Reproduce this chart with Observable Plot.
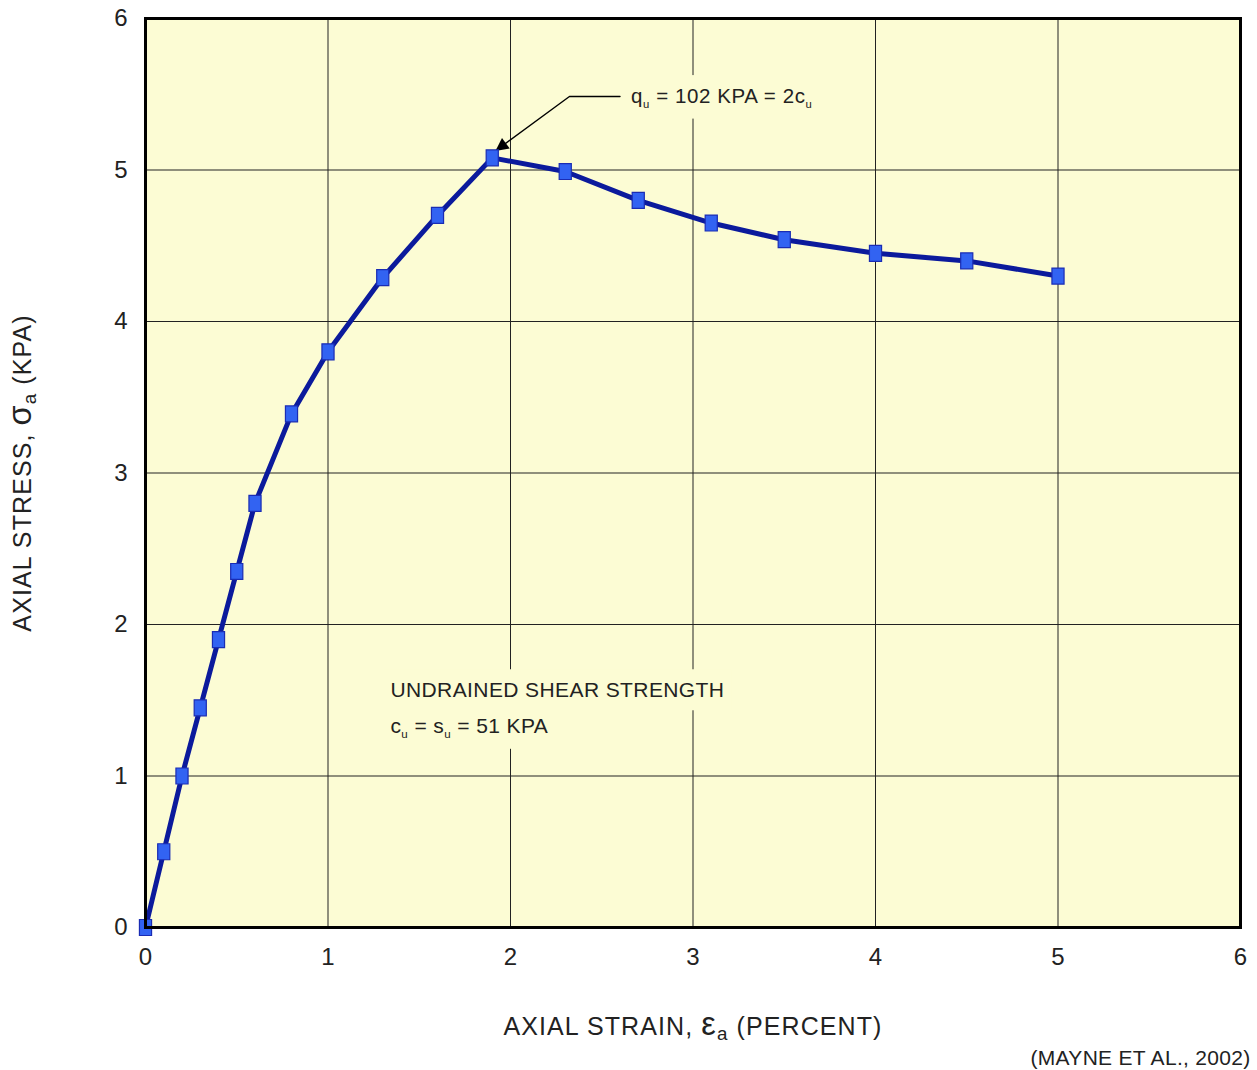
<!DOCTYPE html>
<html><head><meta charset="utf-8">
<script src="https://cdn.jsdelivr.net/npm/d3@7"></script>
<script src="https://cdn.jsdelivr.net/npm/@observablehq/plot@0.6"></script>
<style>
body{margin:0;background:#fff;font-family:"Liberation Sans",Arial,sans-serif}
#chart svg{display:block}
</style>
</head><body><div id="chart"></div>
<script>
// ---- data ----
const strain = [0, 0.1, 0.2, 0.3, 0.4, 0.5, 0.6, 0.8, 1.0, 1.3, 1.6, 1.9, 2.3, 2.7, 3.1, 3.5, 4.0, 4.5, 5.0];
const stress = [0, 0.5, 1.0, 1.45, 1.9, 2.35, 2.8, 3.39, 3.8, 4.29, 4.7, 5.08, 4.99, 4.8, 4.65, 4.54, 4.45, 4.4, 4.3];
const xTicks = [0, 1, 2, 3, 4, 5, 6];
const yTicks = [0, 1, 2, 3, 4, 5, 6];
const xLabel = "AXIAL STRAIN, ε_a (PERCENT)";
const yLabel = "AXIAL STRESS, σ_a (KPA)";
const caption = "(MAYNE ET AL., 2002)";
const peakLabel = ["q_u = 102 KPA = 2c_u"];
const peakLabelX = [2.66];
const peakLabelY = [5.485];
const leaderX = [2.60, 2.323, 1.92];
const leaderY = [5.485, 5.485, 5.128];
const noteLines = ["UNDRAINED SHEAR STRENGTH", "c_u = s_u = 51 KPA"];
const noteX = [1.342, 1.342];
const noteY = [1.564, 1.327];

const data = strain.map((x, i) => ({x, y: stress[i]}));
const leader = leaderX.map((x, i) => ({x, y: leaderY[i]}));
const peak = peakLabel.map((t, i) => ({t, x: peakLabelX[i], y: peakLabelY[i]}));
const notes = noteLines.map((t, i) => ({t, x: noteX[i], y: noteY[i]}));

const BG = "#fcfcd4";
const rectSymbol = {
  draw(ctx, size) {
    const s = Math.sqrt(size);
    const w = 0.76 * s, h = 1.0 * s;
    ctx.moveTo(-w/2, -h/2); ctx.lineTo(w/2, -h/2); ctx.lineTo(w/2, h/2); ctx.lineTo(-w/2, h/2); ctx.closePath();
  }
};

const plot = Plot.plot({
  width: 1257, height: 1070,
  marginTop: 18, marginBottom: 143, marginLeft: 145, marginRight: 17,
  style: {background: "#fff", fontFamily: "'Liberation Sans', Arial, sans-serif", color: "#222"},
  x: {domain: [0, 6], label: null},
  y: {domain: [0, 6], label: null},
  marks: [
    Plot.frame({fill: BG}),
    Plot.gridX(xTicks, {stroke: "#222", strokeOpacity: 1, strokeWidth: 1}),
    Plot.gridY(yTicks, {stroke: "#222", strokeOpacity: 1, strokeWidth: 1}),
    Plot.axisX(xTicks, {tickSize: 0, tickPadding: 20, fontSize: 24, fill: "#222", tickFormat: d => String(d)}),
    Plot.axisY(yTicks, {tickSize: 0, tickPadding: 18, fontSize: 24, fill: "#222", tickFormat: d => String(d)}),
    Plot.text(notes, {x: "x", y: "y", text: "t", textAnchor: "start", fontSize: 21, fill: "#222", className: "note-text"}),
    Plot.text(peak, {x: "x", y: "y", text: "t", textAnchor: "start", fontSize: 20.5, fill: "#222", className: "note-text peak-text"}),
    Plot.line(leader, {x: "x", y: "y", stroke: "#000", strokeWidth: 1.4, className: "leader-line"}),
    Plot.line(data, {x: "x", y: "y", stroke: "#0b1a9c", strokeWidth: 5, strokeLinejoin: "round"}),
    Plot.dot(data, {x: "x", y: "y", symbol: rectSymbol, r: 9, fill: "#3263f2", stroke: "#1a2cb4", strokeWidth: 1.2}),
    Plot.frame({stroke: "#000", strokeWidth: 3}),
    Plot.text([xLabel], {frameAnchor: "bottom", dy: 107, textAnchor: "middle", text: d => d, fontSize: 25, fill: "#222", className: "rich-text"}),
    Plot.text([yLabel], {frameAnchor: "left", dx: -123, rotate: -90, textAnchor: "middle", text: d => d, fontSize: 25, fill: "#222", className: "rich-text"}),
    Plot.text([caption], {frameAnchor: "bottom-right", dx: 10, dy: 137, textAnchor: "end", text: d => d, fontSize: 21, fill: "#222", className: "caption-text"})
  ]
});
document.getElementById("chart").appendChild(plot);

const svg = d3.select(plot);
svg.selectAll(".rich-text").attr("letter-spacing", 1.1);
svg.selectAll(".caption-text").attr("letter-spacing", 0.3);
svg.selectAll(".note-text").attr("letter-spacing", 0.4);
svg.selectAll(".peak-text").attr("letter-spacing", 0.6);

// rich text: "_x" -> subscript x; enlarge Greek letters
function richify(el, subScale, subShift, greekScale) {
  const s = el.textContent;
  if (!/[_σε]/.test(s)) return;
  const f = parseFloat(getComputedStyle(el).fontSize) || 20;
  const t = d3.select(el);
  t.text(null);
  let buf = "", pendingDy = 0;
  const flush = () => {
    if (buf) {
      const sp = t.append("tspan").text(buf);
      if (pendingDy) sp.attr("dy", pendingDy);
      pendingDy = 0; buf = "";
    }
  };
  for (let i = 0; i < s.length; i++) {
    const ch = s[i];
    if (ch === "_" && i + 1 < s.length) {
      flush();
      t.append("tspan").attr("font-size", f * subScale).attr("dy", f * subShift + pendingDy).text(s[i + 1]);
      pendingDy = -f * subShift;
      i++;
    } else if (ch === "σ" || ch === "ε") {
      flush();
      const sp = t.append("tspan").attr("font-size", f * greekScale).text(ch);
      if (pendingDy) { sp.attr("dy", pendingDy); pendingDy = 0; }
    } else buf += ch;
  }
  flush();
}
svg.selectAll('.note-text text').each(function() { richify(this, 0.55, 0.22, 1); });
svg.selectAll('.rich-text text').each(function() { richify(this, 0.75, 0.2, 1.3); });

// background boxes behind annotation texts (break the grid like the original)
svg.selectAll('.note-text text').each(function() {
  const b = this.getBBox();
  const padX = 7, padY = 9;
  const r = document.createElementNS("http://www.w3.org/2000/svg", "rect");
  r.setAttribute("x", b.x - padX);
  r.setAttribute("y", b.y - padY);
  r.setAttribute("width", b.width + 2 * padX);
  r.setAttribute("height", b.height + 2 * padY);
  r.setAttribute("fill", BG);
  r.setAttribute("stroke", "none");
  const tr = this.getAttribute("transform");
  if (tr) r.setAttribute("transform", tr);
  this.parentNode.insertBefore(r, this);
});

// filled arrowhead for the leader
const defs = svg.insert("defs", ":first-child");
defs.append("marker")
  .attr("id", "ahead").attr("viewBox", "0 0 10 10").attr("refX", 9.5).attr("refY", 5)
  .attr("markerWidth", 21).attr("markerHeight", 13).attr("markerUnits", "userSpaceOnUse")
  .attr("orient", "auto")
  .append("path").attr("d", "M0,0L10,5L0,10z").attr("fill", "#000").attr("stroke", "none");
svg.selectAll('.leader-line path').attr("marker-end", "url(#ahead)");
</script>
</body></html>
